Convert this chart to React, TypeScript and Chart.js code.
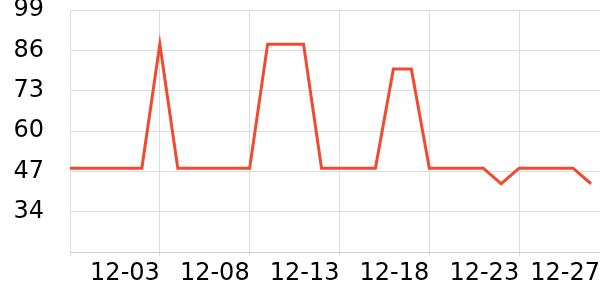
import React, { useEffect, useRef } from 'react';
import { Chart, registerables } from 'chart.js';

Chart.register(...registerables);

const dates = [
  '11-28', '11-29', '11-30', '12-01', '12-02', '12-03', '12-04', '12-05', '12-06', '12-07',
  '12-08', '12-09', '12-10', '12-11', '12-12', '12-13', '12-14', '12-15', '12-16', '12-17',
  '12-18', '12-19', '12-20', '12-21', '12-22', '12-23', '12-24', '12-25', '12-26', '12-27',
];
const values = [
  48, 48, 48, 48, 48, 88, 48, 48, 48, 48,
  48, 88, 88, 88, 48, 48, 48, 48, 80, 80,
  48, 48, 48, 48, 43, 48, 48, 48, 48, 43,
];
const yTicks = [21, 34, 47, 60, 73, 86, 99];
const xTickDates = ['11-28', '12-03', '12-08', '12-13', '12-18', '12-23'];
const endLabel = '12-27';

const FONT = 'DejaVu Sans';

export default function App() {
  const ref = useRef<HTMLCanvasElement | null>(null);

  useEffect(() => {
    document.body.style.margin = '0';
    const canvas = ref.current;
    if (!canvas) return;
    const xMax = dates.length - 0.5;
    const tickDefs = xTickDates.map((d, i) => ({ value: dates.indexOf(d), label: i === 0 ? '' : d }));
    tickDefs.push({ value: xMax, label: endLabel });

    const chart = new Chart(canvas, {
      type: 'line',
      data: {
        datasets: [
          {
            data: values.map((v, i) => ({ x: i, y: v })),
            borderColor: '#f04b2f',
            backgroundColor: '#f04b2f',
            borderWidth: 3,
            pointRadius: 0,
            tension: 0,
            fill: false,
          },
        ],
      },
      options: {
        animation: false,
        responsive: false,
        maintainAspectRatio: false,
        layout: { padding: { top: 10, left: 0, right: 0, bottom: 0 } },
        plugins: { legend: { display: false }, tooltip: { enabled: false } },
        scales: {
          x: {
            type: 'linear',
            min: 0,
            max: xMax,
            afterBuildTicks: (s: any) => {
              s.ticks = tickDefs.map((t) => ({ value: t.value }));
            },
            afterFit: (s: any) => {
              s.height = 48;
              s.paddingLeft = 0;
              s.paddingRight = 0;
            },
            grid: {
              color: (ctx: any) => (ctx.tick && ctx.tick.value === xMax ? 'rgba(0,0,0,0)' : '#dddddd'),
              lineWidth: 1,
              tickLength: 4,
              drawTicks: true,
            },
            border: { color: '#cccccc', width: 1 },
            ticks: {
              autoSkip: false,
              maxRotation: 0,
              align: 'end',
              padding: 3,
              color: '#000',
              font: { family: FONT, size: 24 },
              callback: (v: any) => {
                const t = tickDefs.find((d) => d.value === v);
                return t ? t.label : '';
              },
            },
          },
          y: {
            type: 'linear',
            min: yTicks[0],
            max: yTicks[yTicks.length - 1],
            afterBuildTicks: (s: any) => {
              s.ticks = yTicks.map((v) => ({ value: v }));
            },
            afterFit: (s: any) => {
              s.width = 70;
              s.paddingTop = 0;
              s.paddingBottom = 0;
            },
            grid: { color: '#dddddd', lineWidth: 1, drawTicks: false },
            border: { color: '#dddddd', width: 1 },
            ticks: {
              padding: 26,
              color: '#000',
              font: { family: FONT, size: 24, lineHeight: 1 },
              callback: (v: any) => (v === yTicks[0] ? '' : String(v)),
            },
          },
        },
      },
    });
    return () => chart.destroy();
  }, []);

  return (
    <div style={{ width: 600, height: 300 }}>
      <canvas ref={ref} width={600} height={300} style={{ display: 'block' }} />
    </div>
  );
}
